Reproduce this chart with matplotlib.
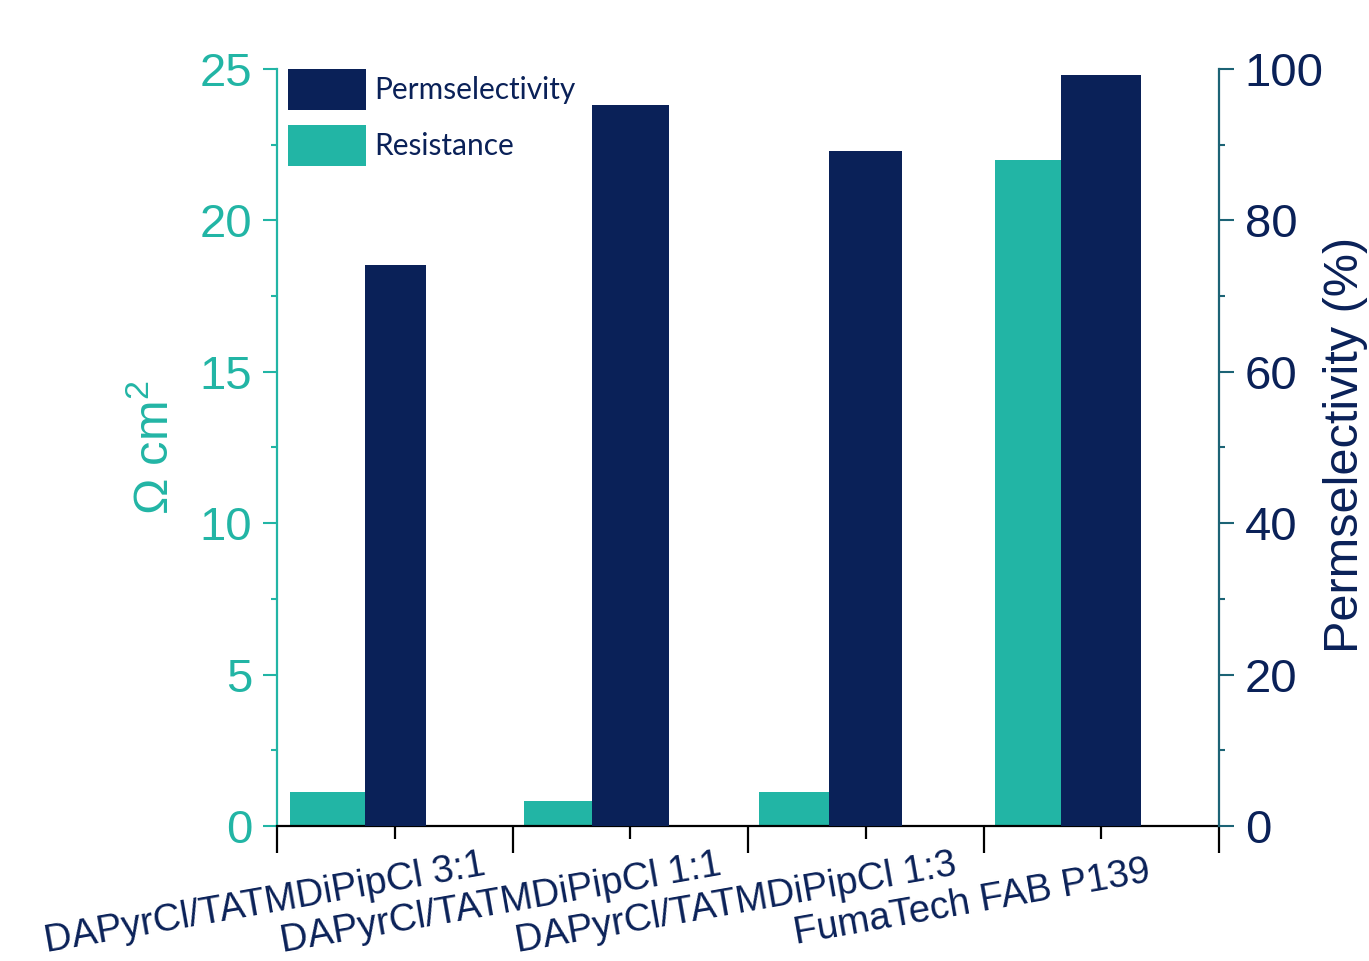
import matplotlib
matplotlib.use("Agg")
import matplotlib.pyplot as plt
import matplotlib.transforms as mtransforms
from matplotlib.patches import Patch
import numpy as np

categories = ["DAPyrCl/TATMDiPipCl 3:1", "DAPyrCl/TATMDiPipCl 1:1",
              "DAPyrCl/TATMDiPipCl 1:3", "FumaTech FAB P139"]
resistance = [1.12, 0.82, 1.11, 22.0]          # Ohm cm^2 (left axis)
permselectivity = [74.1, 95.2, 89.2, 99.2]     # % (right axis)

TEAL = "#22B5A5"
NAVY = "#0A2158"
RSPINE = "#1C6375"

# layout: bar edges per group, in units of category spacing, relative to centre
TEAL_LEFT = [-0.446, -0.452, -0.455, -0.452]
SPLIT = [-0.127, -0.162, -0.154, -0.170]
NAVY_RIGHT = [0.131, 0.163, 0.152, 0.168]

plt.rcParams['font.family'] = ['Liberation Sans', 'DejaVu Sans']
plt.rcParams['mathtext.fontset'] = 'custom'
plt.rcParams['mathtext.rm'] = 'Liberation Sans'
plt.rcParams['mathtext.it'] = 'Liberation Sans:italic'
plt.rcParams['mathtext.bf'] = 'Liberation Sans:bold'

fig = plt.figure(figsize=(13.69, 9.61), dpi=100)
ax = fig.add_axes([277/1369, (961-826)/961, (1219-277)/1369, (826-69)/961])
ax2 = ax.twinx()

x = np.arange(1, len(categories) + 1)
tl = x + np.array(TEAL_LEFT)
sp = x + np.array(SPLIT)
nr = x + np.array(NAVY_RIGHT)
ax.bar(tl, resistance, width=sp - tl, align='edge', color=TEAL, zorder=2)
ax2.bar(sp, permselectivity, width=nr - sp, align='edge', color=NAVY, zorder=2)

ax.set_xlim(0.5, 4.5)
ax.set_ylim(0, 25)
ax2.set_ylim(0, 100)

# x ticks: short at centers, long at boundaries
ax.set_xticks(x)
ax.set_xticklabels([])
ax.set_xticks(np.arange(0.5, 4.6, 1.0), minor=True)
ax.tick_params(axis='x', which='major', direction='out', length=9.5, width=1.6, color='black')
ax.tick_params(axis='x', which='minor', direction='out', length=19.5, width=1.6, color='black')

# left y axis
ax.set_yticks(np.arange(0, 26, 5))
ax.set_yticks(np.arange(0, 25.1, 2.5), minor=True)
ax.tick_params(axis='y', which='major', direction='out', length=10, width=1.5, color=TEAL,
               labelcolor=TEAL, labelsize=34, pad=8)
ax.tick_params(axis='y', which='minor', direction='out', length=4.5, width=1.5, color=TEAL)

# right y axis
ax2.set_yticks(np.arange(0, 101, 20))
ax2.set_yticks(np.arange(0, 100.1, 10), minor=True)
ax2.tick_params(axis='y', which='major', direction='out', length=10.5, width=1.5, color=RSPINE,
                labelcolor=NAVY, labelsize=34, pad=8)
ax2.tick_params(axis='y', which='minor', direction='out', length=4.5, width=1.5, color=RSPINE)

for a in (ax, ax2):
    a.spines['top'].set_visible(False)
ax.spines['left'].set_color(TEAL)
ax.spines['left'].set_linewidth(1.6)
ax.spines['bottom'].set_color('black')
ax.spines['bottom'].set_linewidth(1.6)
ax.spines['right'].set_visible(False)
ax2.spines['left'].set_visible(False)
ax2.spines['bottom'].set_visible(False)
ax2.spines['right'].set_color(RSPINE)
ax2.spines['right'].set_linewidth(1.6)

# category labels
trans = mtransforms.blended_transform_factory(ax.transData, ax.transAxes)
for xi, lab in zip(x, categories):
    ax.text(xi - 0.55, -77/757, lab, transform=trans, rotation=10, ha='center', va='center',
            fontsize=27.5, color=NAVY)

# axis titles
fig.text(155/1369, (961-448)/961, r'Ω cm$^{2}$', rotation=90, ha='center', va='center',
         fontsize=35, color=TEAL)
fig.text(1346/1369, (961-445)/961, 'Permselectivity (%)', rotation=90, ha='center', va='center',
         fontsize=35, color=NAVY)

handles = [Patch(facecolor=NAVY, edgecolor='none', label='Permselectivity'),
           Patch(facecolor=TEAL, edgecolor='none', label='Resistance')]
ax2.legend(handles=handles, loc='upper left', bbox_to_anchor=(11/941, 1.0), frameon=False,
           borderaxespad=0, borderpad=0, prop={'family': 'Lato', 'size': 21.5},
           handlelength=2.6, handleheight=1.72, handletextpad=0.28, labelspacing=0.52,
           labelcolor=NAVY)

fig.savefig("out.png", dpi=100)
